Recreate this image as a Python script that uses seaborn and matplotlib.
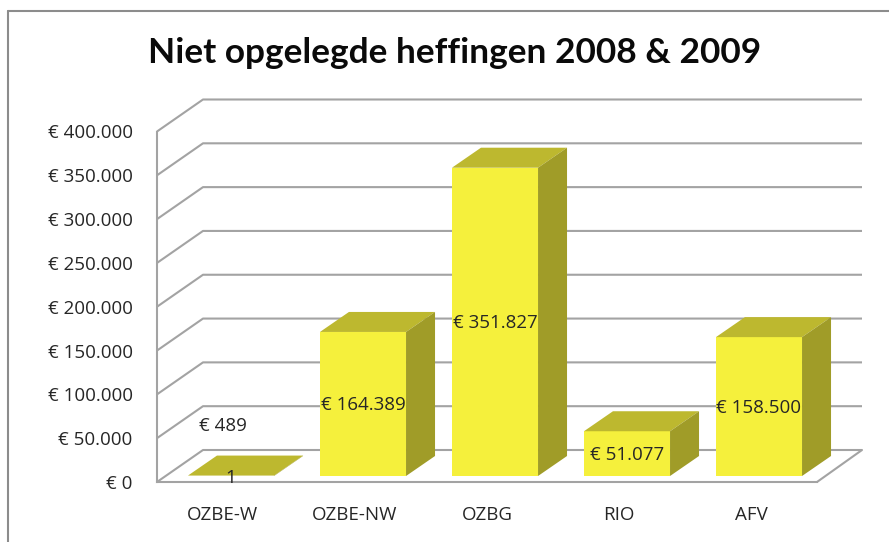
import matplotlib
matplotlib.use('Agg')
import matplotlib.pyplot as plt
from matplotlib.lines import Line2D
from matplotlib.patches import Polygon
import seaborn as sns

categories = ['OZBE-W', 'OZBE-NW', 'OZBG', 'RIO', 'AFV']
values = [489, 164389, 351827, 51077, 158500]
bar_labels = ['€ 489', '€ 164.389', '€ 351.827', '€ 51.077', '€ 158.500']
y_ticks = [0, 50000, 100000, 150000, 200000, 250000, 300000, 350000, 400000]
y_labels = ['€ 0', '€ 50.000', '€ 100.000', '€ 150.000', '€ 200.000',
            '€ 250.000', '€ 300.000', '€ 350.000', '€ 400.000']

sns.set_theme(style='white')
plt.rcParams['font.family'] = ['Open Sans', 'DejaVu Sans']

W, H = 889, 542
fig = plt.figure(figsize=(W / 100, H / 100), dpi=100, facecolor='white')
ax = fig.add_axes([157 / W, (H - 482) / H, 660 / W, 350.5 / H], facecolor='none')

sns.barplot(x=categories, y=values, color='#F5F03C', saturation=1, width=0.652,
            edgecolor='none', linewidth=0, ax=ax, zorder=3)
ax.set_xlim(-0.5, 4.5)
ax.set_ylim(0, 400000)

# size of one pixel in data units, the 3D look is all offsets in pixels
px_x = 1 / 132
px_y = 400000 / 350.5

# back wall and floor
grid_col = '#A3A3A3'
for v in y_ticks:
    ax.plot([-0.5, -0.5 + 46 * px_x, 4.5 + 45 * px_x], [v, v + 32 * px_y, v + 32 * px_y],
            color=grid_col, lw=1.5, clip_on=False, zorder=1, solid_capstyle='butt')
ax.plot([4.5, 4.5 + 45 * px_x], [0, 32 * px_y], color=grid_col, lw=1.5, clip_on=False, zorder=1)

# bars: move the front faces onto the floor, add top and side
for p, label in zip(ax.patches, bar_labels):
    p.set_x(p.get_x() + 8 * px_x)
    p.set_y(p.get_y() + 6 * px_y)
    p.set_clip_on(False)
    x0, x1 = p.get_x(), p.get_x() + p.get_width()
    y0, y1 = p.get_y(), p.get_y() + p.get_height()
    dx, dy = 29 * px_x, 20 * px_y
    ax.add_patch(Polygon([(x0, y1), (x1, y1), (x1 + dx, y1 + dy), (x0 + dx, y1 + dy)],
                         facecolor='#BDB82F', edgecolor='none', clip_on=False, zorder=3))
    ax.add_patch(Polygon([(x1, y0), (x1 + dx, y0 + dy), (x1 + dx, y1 + dy), (x1, y1)],
                         facecolor='#A09C28', edgecolor='none', clip_on=False, zorder=3))

label_col = '#262626'
for i in range(1, 5):
    ax.text(i + 8 * px_x, values[i] / 2 + 5 * px_y, bar_labels[i], ha='center', va='center',
            fontsize=13.5, color=label_col, zorder=5)
ax.text(0, values[0] + 56 * px_y, bar_labels[0], ha='center', va='center',
        fontsize=13.5, color=label_col, zorder=5)
ax.text(8 * px_x, 4 * px_y, '1', ha='center', va='center', fontsize=13.5, color=label_col, zorder=5)

sns.despine(ax=ax, top=True, right=True)
for side in ['left', 'bottom']:
    ax.spines[side].set_color(grid_col)
    ax.spines[side].set_linewidth(1.5)
ax.set_yticks(y_ticks)
ax.set_yticklabels(y_labels, fontsize=13.5, color=label_col)
ax.tick_params(axis='y', length=0, pad=17.5)
ax.tick_params(axis='x', length=0, pad=17.5, labelsize=13.5, labelcolor=label_col)

fig.text(455 / W, (H - 53) / H, 'Niet opgelegde heffingen 2008 & 2009', ha='center', va='center',
         fontsize=25.4, fontweight='bold', family=['Lato', 'DejaVu Sans'], color='#0A0A0A')

# frame of the pasted picture
frame_col = '#8C8C8C'
fig.add_artist(Line2D([8 / W, 1], [(H - 11) / H, (H - 11) / H], color=frame_col, lw=1.5))
fig.add_artist(Line2D([8 / W, 8 / W], [0, (H - 11) / H], color=frame_col, lw=1.5))

fig.savefig('out.png', dpi=100)
